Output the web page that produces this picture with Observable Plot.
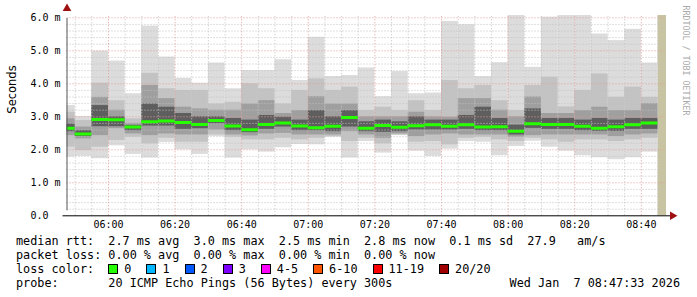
<!DOCTYPE html>
<html><head><meta charset="utf-8">
<script src="https://cdn.jsdelivr.net/npm/d3@7"></script>
<script src="https://cdn.jsdelivr.net/npm/@observablehq/plot@0.6"></script>
<style>
html,body{margin:0;padding:0;background:#fff;}
#wrap{position:relative;width:697px;height:297px;overflow:hidden;background:#fff;}
#wrap svg{position:absolute;left:0;top:0;}
.leg{position:absolute;left:16px;font-family:"DejaVu Sans Mono",monospace;font-size:11.8px;line-height:14px;color:#000;white-space:pre;}
.row{display:flex;align-items:center;white-space:pre;}
.sw{display:inline-block;width:8px;height:8px;border:1px solid #000;margin-right:6px;}
.item{display:inline-flex;align-items:center;margin-right:15px;}
#date{position:absolute;right:17px;top:276px;font-family:"DejaVu Sans Mono",monospace;font-size:11.8px;line-height:14px;white-space:pre;}
</style></head><body><div id="wrap"></div>
<script>
// bar start times (5-minute steps)
const times = ["05:45","05:50","05:55","06:00","06:05","06:10","06:15","06:20","06:25","06:30","06:35","06:40","06:45","06:50","06:55","07:00","07:05","07:10","07:15","07:20","07:25","07:30","07:35","07:40","07:45","07:50","07:55","08:00","08:05","08:10","08:15","08:20","08:25","08:30","08:35","08:40"];
// smoke bands (ms)
const smax = [3.34,3.01,4.99,4.69,3.70,5.75,4.81,4.16,4.02,4.63,3.85,4.40,4.40,4.73,4.10,5.41,4.22,4.25,4.48,3.61,4.37,3.70,3.72,5.89,5.79,4.22,4.64,6.07,4.50,6.02,6.07,6.07,5.51,5.31,5.65,4.63];
const hi2  = [3.14,2.89,4.02,3.49,2.94,4.32,3.85,3.80,3.80,3.39,3.44,4.00,3.85,3.39,3.80,4.15,3.80,3.90,3.19,3.29,3.19,3.49,3.19,4.10,3.85,3.95,3.49,3.19,3.95,4.20,3.30,3.80,4.30,3.59,3.90,3.59];
const hi3  = [2.94,2.69,3.59,3.20,2.80,3.95,3.55,3.29,3.24,3.20,3.20,3.39,3.49,3.10,3.19,3.61,3.39,3.39,3.00,3.00,3.00,3.14,3.00,2.99,3.55,3.55,3.20,3.00,3.60,3.10,3.10,3.19,3.29,3.19,3.19,3.40];
const hi4  = [2.78,2.58,3.34,3.00,2.74,3.39,3.29,3.10,3.00,3.00,2.95,2.90,3.04,2.99,2.90,3.19,3.00,3.19,2.85,2.90,2.85,3.00,2.90,2.90,3.04,3.29,2.95,2.75,3.24,2.95,2.95,2.90,2.95,2.90,2.95,2.95];
const median = [2.65,2.48,2.92,2.91,2.69,2.85,2.87,2.83,2.77,2.89,2.72,2.61,2.77,2.81,2.72,2.67,2.71,2.98,2.65,2.74,2.68,2.73,2.76,2.71,2.76,2.69,2.70,2.56,2.79,2.77,2.77,2.71,2.65,2.70,2.76,2.81];
const lo4  = [2.55,2.40,2.70,2.70,2.58,2.72,2.72,2.62,2.64,2.79,2.58,2.52,2.62,2.69,2.58,2.58,2.55,2.69,2.55,2.53,2.55,2.60,2.60,2.60,2.62,2.58,2.58,2.45,2.65,2.62,2.62,2.58,2.56,2.56,2.62,2.62];
const lo3  = [2.43,2.33,2.43,2.64,2.48,2.43,2.48,2.45,2.45,2.60,2.45,2.42,2.48,2.50,2.45,2.45,2.45,2.55,2.45,2.35,2.48,2.40,2.45,2.48,2.45,2.45,2.45,2.38,2.43,2.45,2.45,2.45,2.45,2.40,2.45,2.48];
const lo2  = [2.08,1.98,2.08,2.28,2.38,2.18,2.35,2.23,2.23,2.45,2.38,2.30,2.30,2.35,2.30,2.35,2.40,2.25,2.35,2.18,2.45,2.23,2.25,2.15,2.35,2.38,2.30,2.25,2.35,2.30,2.23,2.30,2.30,2.25,2.30,2.35];
const smin = [1.78,1.80,1.73,2.12,1.86,1.75,2.22,2.00,1.86,2.40,1.75,2.00,1.93,2.06,2.16,2.15,2.38,1.75,2.25,1.90,2.43,1.96,1.80,2.02,2.25,2.23,1.82,2.10,2.26,2.08,1.96,1.82,1.76,1.70,1.76,1.93];
const noDataFrom = "08:45";
const xTickLabels = ["06:00","06:20","06:40","07:00","07:20","07:40","08:00","08:20","08:40"];
const yTickValues = [0,1,2,3,4,5,6];
const yTickLabels = ["0.0\u00a0\u00a0","1.0 m","2.0 m","3.0 m","4.0 m","5.0 m","6.0 m"];
const lossLabels = ["0","1","2","3","4-5","6-10","11-19","20/20"];
const lossColors = ["#26ff00","#00b8ff","#0059ff","#7e00ff","#ff00ff","#ff5500","#ff0000","#a10000"];
const statsRtt = "median rtt:  2.7 ms avg  3.0 ms max  2.5 ms min  2.8 ms now  0.1 ms sd  27.9   am/s";
const statsLoss = "packet loss: 0.00 % avg  0.00 % max  0.00 % min  0.00 % now";
const probeText = "probe:       20 ICMP Echo Pings (56 Bytes) every 300s";
const dateText = "Wed Jan  7 08:47:33 2026";

const toMin = s => { const [h, m] = s.split(":").map(Number); return h * 60 + m; };
const xEnd = toMin("08:47") + 33 / 60;
const xStart = xEnd - 180;
const yTop = 6.07;

const rows = times.map((t, i) => ({
  x1: toMin(t), x2: toMin(t) + 5,
  smax: smax[i], hi2: hi2[i], hi3: hi3[i], hi4: hi4[i], med: median[i],
  lo4: lo4[i], lo3: lo3[i], lo2: lo2[i], smin: smin[i]
}));

const majorX = xTickLabels.map(toMin);
const minorX = d3.range(350, xEnd, 5).filter(v => !majorX.includes(v));
const minorY = d3.range(0.2, 6.01, 0.2).filter(v => Math.abs(v - Math.round(v)) > 1e-6);
const dash = "1,2";

const band = (a, b, fill) => Plot.rect(rows, {x1: "x1", x2: "x2", y1: a, y2: b, fill, clip: true});

const chart = Plot.plot({
  width: 697, height: 297,
  marginLeft: 66.5, marginRight: 31, marginTop: 15, marginBottom: 81.7,
  style: {fontFamily: "DejaVu Sans Mono, monospace", fontSize: "10px", background: "transparent", overflow: "visible"},
  x: {type: "linear", domain: [xStart, xEnd]},
  y: {domain: [0, yTop]},
  marks: [
    Plot.rect([toMin(noDataFrom)], {x1: d => d, x2: xEnd, y1: 0, y2: yTop, fill: "#c8c4a2"}),
    band("smax", "smin", "#dcdcdc"),
    band("hi2", "lo2", "#c3c3c3"),
    band("hi3", "lo3", "#9f9f9f"),
    band("hi4", "lo4", "#5e5e5e"),
    Plot.ruleX(minorX, {stroke: "#c0c0c0", strokeDasharray: dash, y1: 0, y2: yTop}),
    Plot.ruleY(minorY, {stroke: "#c0c0c0", strokeDasharray: dash}),
    Plot.ruleX(majorX, {stroke: "#e29a9a", strokeDasharray: dash, y1: 0, y2: yTop}),
    Plot.ruleY(yTickValues.slice(1), {stroke: "#e29a9a", strokeDasharray: dash}),
    Plot.ruleY(rows, {x1: "x1", x2: "x2", y: "med", stroke: lossColors[0], strokeWidth: 3, clip: true}),
    Plot.ruleX([xStart], {y1: 0, y2: yTop, stroke: "#555", insetTop: -5, insetBottom: -3}),
    Plot.ruleY([0], {stroke: "#000", insetLeft: -4, insetRight: -4}),
    Plot.dot([0], {frameAnchor: "top-left", dy: -7, symbol: "triangle", r: 3.2, fill: "#a01010", stroke: null}),
    Plot.dot([0], {frameAnchor: "bottom-right", dx: 6, symbol: "triangle", rotate: 90, r: 3.2, fill: "#a01010", stroke: null}),
    Plot.axisY({ticks: yTickValues, tickFormat: (d, i) => yTickLabels[yTickValues.indexOf(d)], tickSize: 0, tickPadding: 6.5, label: null, fontSize: 10, fill: "#000"}),
    Plot.axisX({ticks: majorX, tickFormat: d => xTickLabels[majorX.indexOf(d)], tickSize: 0, tickPadding: 5, label: null, fontSize: 10, fill: "#000"}),
    Plot.text(["Seconds"], {text: d => d, frameAnchor: "left", dx: -55, dy: -2, rotate: -90, fontFamily: "DejaVu Sans, sans-serif", fontSize: 11.5, fill: "#000"}),
    Plot.text(["RRDTOOL / TOBI OETIKER"], {text: d => d, frameAnchor: "top-right", dx: 22, dy: -10, rotate: 90, textAnchor: "start", fontFamily: "DejaVu Sans Mono, monospace", fontSize: 8.3, fill: "#aaaaaa"})
  ]
});

const wrap = document.getElementById("wrap");
wrap.appendChild(chart);

function addRow(top, html) {
  const d = document.createElement("div");
  d.className = "leg";
  d.style.top = top + "px";
  d.innerHTML = html;
  wrap.appendChild(d);
  return d;
}
addRow(234, statsRtt);
addRow(248, statsLoss);
const lc = addRow(262, "");
lc.classList.add("row");
lc.style.display = "flex";
const lab = document.createElement("span");
lab.textContent = "loss color:  ";
lc.appendChild(lab);
lossLabels.forEach((l, i) => {
  const it = document.createElement("span");
  it.className = "item";
  const sw = document.createElement("span");
  sw.className = "sw";
  sw.style.background = lossColors[i];
  it.appendChild(sw);
  const t = document.createElement("span");
  t.textContent = l;
  it.appendChild(t);
  lc.appendChild(it);
});
addRow(276, probeText);
const dt = document.createElement("div");
dt.id = "date";
dt.textContent = dateText;
wrap.appendChild(dt);
</script>
</body></html>
